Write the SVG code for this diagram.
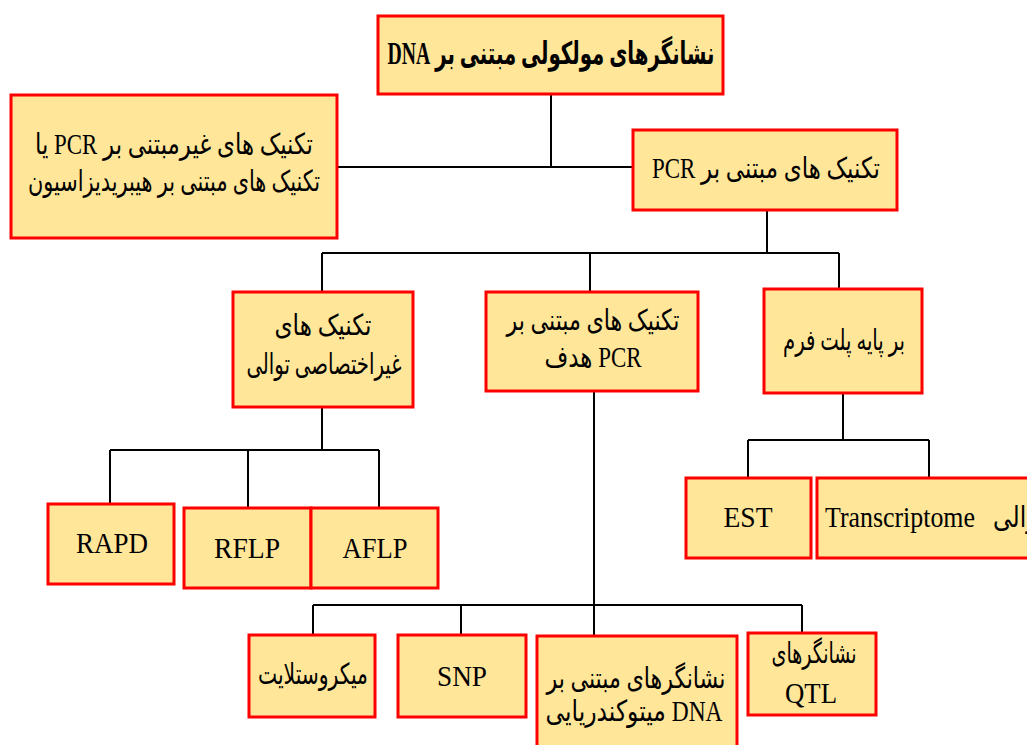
<svg xmlns="http://www.w3.org/2000/svg" width="1027" height="745" viewBox="0 0 1027 745">
<style>
.box{fill:#FFE699;stroke:#FF0000;stroke-width:3}
.conn{fill:none;stroke:#000;stroke-width:2}
text{font-family:'Liberation Serif','DejaVu Sans',serif;font-size:29px;fill:#000;text-anchor:middle}
.rtl{direction:rtl;unicode-bidi:embed}
.b{font-weight:bold;font-size:31px}
.lat{font-size:30px}
</style>
<rect width="1027" height="745" fill="#fff"/>
<g id="connectors" class="conn">
<path d="M551 94V167M337 167H633"/>
<path d="M767 210V253M322 253H839M322 253V292M590 253V292M839 253V289"/>
<path d="M322 407V450M110 450H379M110 450V504M248 450V508M379 450V508"/>
<path d="M843 393V440M748 440H929M748 440V478M929 440V478"/>
<path d="M594 391V636M313 605H802M313 605V635M461 605V635M802 605V633"/>
</g>
<g id="n-root"><rect class="box" x="378" y="16" width="345" height="78"/><text class="rtl b" x="551" y="64" textLength="327" lengthAdjust="spacingAndGlyphs">نشانگرهای مولکولی مبتنی بر DNA</text></g>
<g id="n-nonpcr"><rect class="box" x="11" y="95" width="326" height="143"/><text class="rtl" x="174" y="154" textLength="278" lengthAdjust="spacingAndGlyphs">تکنیک های غیرمبتنی بر PCR یا</text><text class="rtl" x="174" y="191" textLength="292" lengthAdjust="spacingAndGlyphs">تکنیک های مبتنی بر هیبریدیزاسیون</text></g>
<g id="n-pcr"><rect class="box" x="633" y="130" width="264" height="80"/><text class="rtl" x="766" y="178" textLength="228" lengthAdjust="spacingAndGlyphs">تکنیک های مبتنی بر PCR</text></g>
<g id="n-nonspecific"><rect class="box" x="233" y="292" width="180" height="115"/><text class="rtl" x="323" y="335" textLength="97" lengthAdjust="spacingAndGlyphs">تکنیک های</text><text class="rtl" x="324" y="374" textLength="155" lengthAdjust="spacingAndGlyphs">غیراختصاصی توالی</text></g>
<g id="n-target"><rect class="box" x="486" y="292" width="212" height="99"/><text class="rtl" x="593" y="330" textLength="173" lengthAdjust="spacingAndGlyphs">تکنیک های مبتنی بر</text><text class="rtl" x="593" y="367" textLength="97" lengthAdjust="spacingAndGlyphs">PCR هدف</text></g>
<g id="n-platform"><rect class="box" x="764" y="289" width="158" height="104"/><text class="rtl" x="844" y="350" textLength="122" lengthAdjust="spacingAndGlyphs">بر پایه پلت فرم</text></g>
<g id="n-rapd"><rect class="box" x="48" y="504" width="126" height="80"/><text class="lat" x="112" y="553" textLength="72" lengthAdjust="spacingAndGlyphs">RAPD</text></g>
<g id="n-rflp"><rect class="box" x="184" y="508" width="127" height="80"/><text class="lat" x="247" y="558" textLength="66" lengthAdjust="spacingAndGlyphs">RFLP</text></g>
<g id="n-aflp"><rect class="box" x="311" y="508" width="127" height="80"/><text class="lat" x="375" y="558" textLength="65" lengthAdjust="spacingAndGlyphs">AFLP</text></g>
<g id="n-est"><rect class="box" x="686" y="478" width="125" height="80"/><text class="lat" x="748" y="527" textLength="49" lengthAdjust="spacingAndGlyphs">EST</text></g>
<g id="n-transcriptome"><rect class="box" x="817" y="478" width="260" height="80"/><text class="lat" x="900" y="527" textLength="150" lengthAdjust="spacingAndGlyphs">Transcriptome</text><text x="1019" y="527" textLength="52" lengthAdjust="spacingAndGlyphs">توالی</text></g>
<g id="n-microsat"><rect class="box" x="249" y="635" width="126" height="82"/><text class="rtl" x="313" y="684" textLength="110" lengthAdjust="spacingAndGlyphs">میکروستلایت</text></g>
<g id="n-snp"><rect class="box" x="398" y="635" width="128" height="82"/><text class="lat" x="462" y="686" textLength="50" lengthAdjust="spacingAndGlyphs">SNP</text></g>
<g id="n-mito"><rect class="box" x="537" y="636" width="200" height="120"/><text class="rtl" x="636" y="688" textLength="179" lengthAdjust="spacingAndGlyphs">نشانگرهای مبتنی بر</text><text class="rtl" x="634" y="721" textLength="177" lengthAdjust="spacingAndGlyphs">DNA میتوکندریایی</text></g>
<g id="n-qtl"><rect class="box" x="748" y="633" width="128" height="82"/><text class="rtl" x="814" y="663" textLength="85" lengthAdjust="spacingAndGlyphs">نشانگرهای</text><text class="lat" x="811" y="703" textLength="52" lengthAdjust="spacingAndGlyphs">QTL</text></g>
</svg>
